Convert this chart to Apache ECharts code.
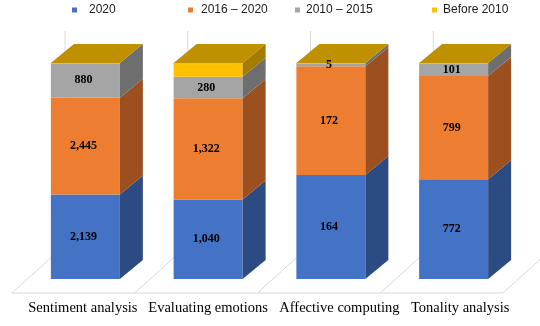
<!DOCTYPE html>
<html><head><meta charset="utf-8">
<script src="https://cdn.jsdelivr.net/npm/echarts@6/dist/echarts.min.js"></script>
<style>html,body{margin:0;padding:0;background:#fff}#c{width:540px;height:326px}</style>
</head><body><div id="c"></div>
<script>
const categories = ['Sentiment analysis', 'Evaluating emotions', 'Affective computing', 'Tonality analysis'];
const seriesNames = ['2020', '2016 – 2020', '2010 – 2015', 'Before 2010'];
const v2020 = [2139, 1040, 164, 772];
const v2016_2020 = [2445, 1322, 172, 799];
const v2010_2015 = [880, 280, 5, 101];
const vBefore2010 = [0, 180, 0, 0];
const showLabels = [true, true, true, false];

const frontColors = ['#4472C4', '#ED7D31', '#A5A5A5', '#FFC000'];
const sideColors = ['#2C4B82', '#9C5020', '#6E6E6E', '#A37C00'];
const topColor = '#BF9000';
const DX = 23, DY = -19;
const BAR_RATIO = 0.562;

const values = [v2020, v2016_2020, v2010_2015, vBefore2010];
const totals = categories.map((c, i) => values.reduce((s, a) => s + a[i], 0));

function buildData(k) {
  return categories.map((c, i) => {
    let start = 0;
    for (let j = 0; j < k; j++) start += values[j][i];
    const end = start + values[k][i];
    return [i, start / totals[i] * 100, end / totals[i] * 100, values[k][i]];
  });
}

function makeRender(k) {
  const last = k === values.length - 1;
  return function (params, api) {
    const i = api.value(0), s = api.value(1), e = api.value(2), raw = api.value(3);
    const bw = api.size([1, 0])[0];
    const w = bw * BAR_RATIO;
    const pb = api.coord([i, s]);
    const pt = api.coord([i, e]);
    const x0 = pb[0] - w / 2, x1 = pb[0] + w / 2, yb = pb[1], yt = pt[1];
    const children = [];
    if (e > s) {
      children.push({ type: 'rect', z2: k, shape: { x: x0, y: yt, width: w, height: yb - yt },
        style: { fill: frontColors[k] } });
      children.push({ type: 'polygon', z2: k, shape: { points: [[x1, yb], [x1 + DX, yb + DY], [x1 + DX, yt + DY], [x1, yt]] },
        style: { fill: sideColors[k] } });
      if (showLabels[k]) {
        children.push({ type: 'text', z2: 30, style: { text: raw.toLocaleString('en-US'), x: pb[0] - 2, y: (yb + yt) / 2,
          align: 'center', verticalAlign: 'middle', font: 'bold 12px "Liberation Serif"', fill: '#000' } });
      }
    }
    if (last) {
      const tp = api.coord([i, 100]);
      const yT = tp[1];
      children.push({ type: 'polygon', z2: 10, shape: { points: [[x0, yT], [x1, yT], [x1 + DX, yT + DY], [x0 + DX, yT + DY]] },
        style: { fill: topColor } });
      children.push({ type: 'line', z2: 11, shape: { x1: x0, y1: yT + 0.5, x2: x1, y2: yT + 0.5 },
        style: { stroke: '#FFC000', lineWidth: 1 } });
    }
    return { type: 'group', children };
  };
}

function floorRender(params, api) {
  const i = api.value(0);
  const c = api.coord([i, 0]);
  const top = api.coord([i, 100])[1];
  const bw = api.size([1, 0])[0];
  const xl = c[0] - bw / 2, xr = c[0] + bw / 2, y0 = c[1];
  const FX = -12, FY = 14, BX = 41, BY = -34;
  const st = { stroke: '#D9D9D9', lineWidth: 1 };
  const ch = [
    { type: 'line', shape: { x1: xl + FX, y1: y0 + FY, x2: xr + FX, y2: y0 + FY }, style: st },
    { type: 'line', shape: { x1: xl + FX, y1: y0 + FY, x2: xl + BX, y2: y0 + BY }, style: st },
    { type: 'line', shape: { x1: xl + BX, y1: y0 + BY, x2: xl + BX, y2: top + BY + 2 }, style: st }
  ];
  if (i === categories.length - 1) {
    ch.push({ type: 'line', shape: { x1: xr + FX, y1: y0 + FY, x2: xr + BX, y2: y0 + BY }, style: st });
  }
  return { type: 'group', children: ch };
}

const legendLefts = [72, 188, 295, 432];
const legendPads = [7, 3, 1, 1];
const legends = seriesNames.map((n, k) => ({
  data: [n], left: legendLefts[k], top: 4, padding: 0,
  itemWidth: 5, itemHeight: 5, icon: 'rect', selectedMode: false,
  textStyle: { fontFamily: 'Liberation Sans', fontSize: 12, color: '#1a1a1a', padding: [0, 0, 0, legendPads[k]] }
}));

const series = [{
  type: 'custom', name: 'floor', z: 1, silent: true, clip: false,
  renderItem: floorRender, data: categories.map((c, i) => [i])
}].concat(values.map((v, k) => ({
  type: 'custom', name: seriesNames[k], z: 2, clip: false,
  itemStyle: { color: frontColors[k] },
  renderItem: makeRender(k),
  encode: { x: 0, y: [1, 2] },
  data: buildData(k)
})));

const labelRich = {
  p0: { padding: [0, 5, 0, 0] },
  p1: { padding: [0, 0, 0, 0] },
  p2: { padding: [0, 0, 0, 17] },
  p3: { padding: [0, 0, 0, 13] }
};
Object.keys(labelRich).forEach(key => Object.assign(labelRich[key], { fontFamily: 'Liberation Serif', fontSize: 14.5, color: '#000' }));

const chart = echarts.init(document.getElementById('c'));
chart.setOption({
  animation: false,
  backgroundColor: '#fff',
  legend: legends,
  grid: { left: 24, right: 25, top: 63, bottom: 47 },
  xAxis: {
    type: 'category', data: categories,
    axisLine: { show: false }, axisTick: { show: false }, splitLine: { show: false },
    axisLabel: { margin: 22, fontFamily: 'Liberation Serif', fontSize: 14.5, color: '#000', interval: 0,
      formatter: (v, idx) => '{p' + idx + '|' + v + '}', rich: labelRich }
  },
  yAxis: { type: 'value', min: 0, max: 100, show: false },
  series
});
</script></body></html>
